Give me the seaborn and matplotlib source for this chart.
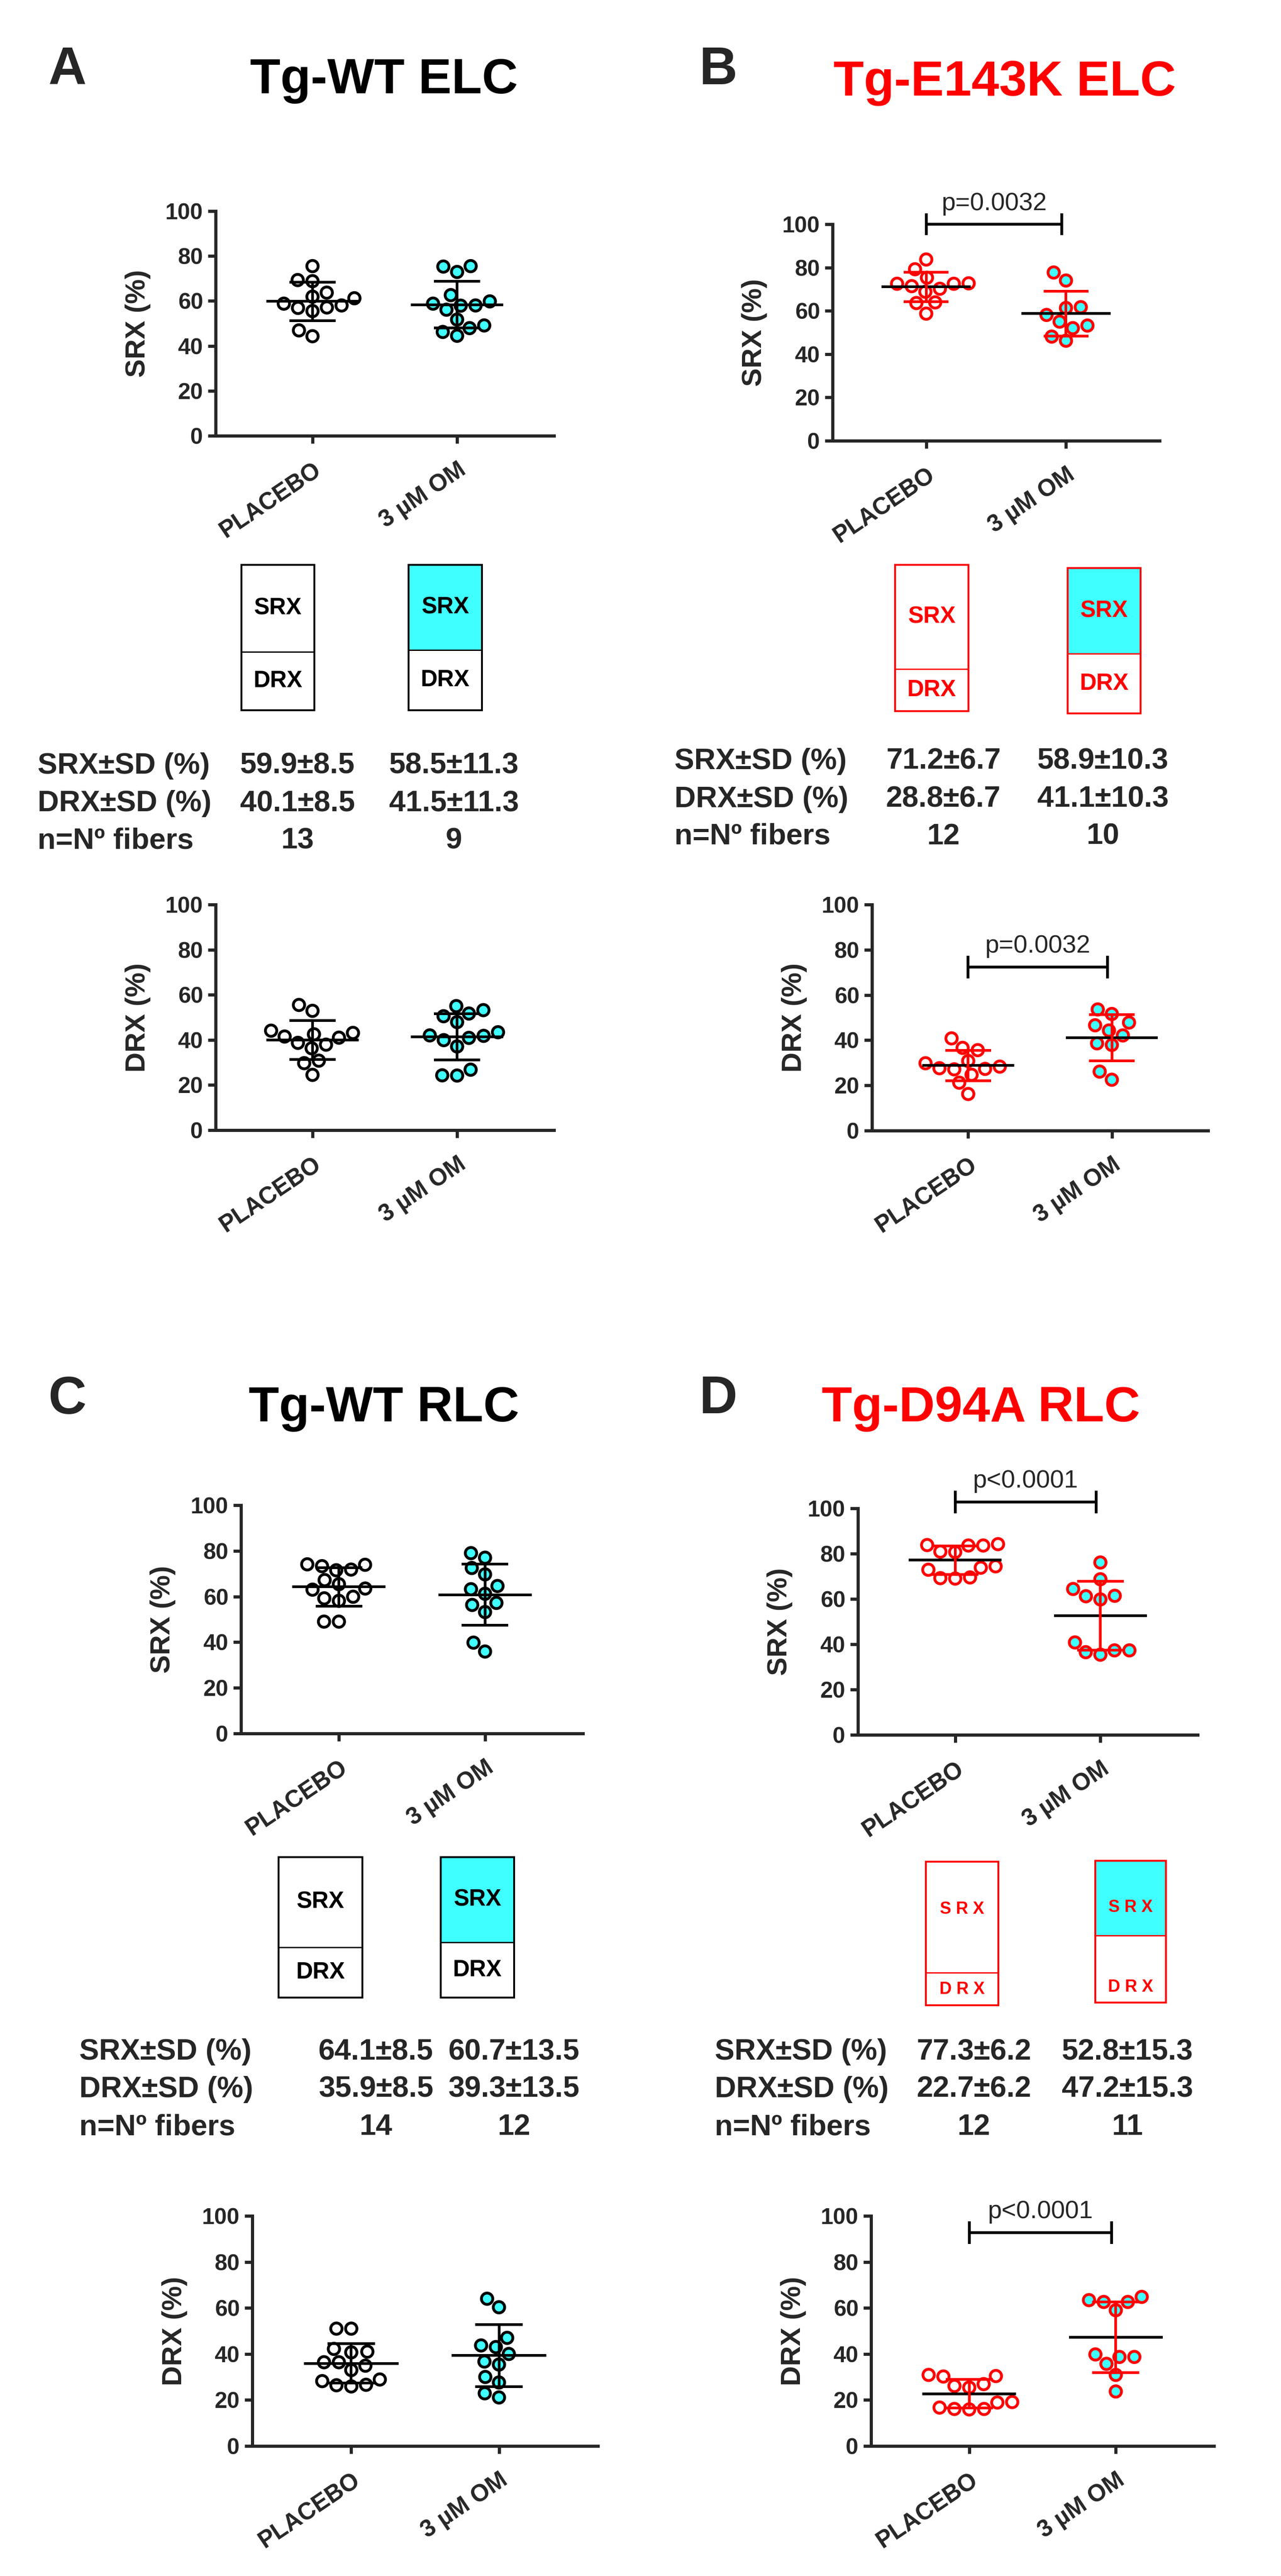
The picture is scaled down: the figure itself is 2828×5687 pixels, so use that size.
import numpy as np
import pandas as pd
import seaborn as sns
import matplotlib.pyplot as plt

W, H = 2828, 5687
CYAN = "#40FFFF"
RED = "#FF0000"

groups = ["PLACEBO", "3 \u00b5M OM"]

# individual fibers (%)
a_srx_pla = [75.5, 68.8, 69.3, 63.7, 61.9, 58.8, 56.9, 58.0, 55.5, 57.1, 61.2, 44.3, 46.9]
a_srx_om = [75.3, 72.9, 75.5, 62.6, 59.8, 57.9, 58.0, 58.8, 56.1, 51.7, 46.2, 47.9, 49.1, 44.5]
a_drx_pla = [55.5, 52.9, 42.5, 41.0, 43.1, 44.1, 41.5, 38.7, 37.9, 36.3, 30.8, 29.7, 24.5]
a_drx_om = [55.0, 53.2, 50.5, 51.7, 47.9, 43.4, 39.9, 42.0, 41.8, 40.9, 37.1, 24.2, 26.8, 24.3]
b_srx_pla = [83.7, 79.2, 75.3, 72.7, 71.4, 72.5, 72.5, 70.2, 68.8, 63.9, 63.6, 58.7]
b_srx_om = [77.7, 74.0, 61.3, 61.7, 58.1, 55.0, 53.2, 52.0, 46.2, 48.1]
b_drx_pla = [40.8, 36.6, 35.6, 30.8, 29.8, 27.1, 27.6, 28.3, 27.3, 24.7, 21.2, 16.2]
b_drx_om = [53.6, 51.6, 47.8, 46.6, 44.3, 42.1, 38.6, 37.9, 26.1, 22.5]
c_srx_pla = [73.9, 74.1, 71.5, 71.8, 73.3, 67.2, 63.5, 65.4, 63.0, 59.9, 58.1, 59.2, 49.0, 49.0]
c_srx_om = [79.0, 77.0, 72.5, 69.7, 63.2, 64.6, 61.2, 57.2, 56.3, 53.2, 39.8, 35.9]
c_drx_pla = [51.0, 51.0, 40.7, 41.0, 42.2, 34.9, 36.4, 36.4, 33.0, 28.9, 28.2, 26.6, 26.4, 25.9]
c_drx_om = [64.0, 60.3, 47.0, 43.7, 43.0, 40.0, 36.7, 35.4, 30.0, 27.6, 22.9, 21.1]
d_srx_pla = [83.8, 80.7, 80.9, 83.6, 84.2, 83.6, 74.4, 73.8, 72.9, 69.5, 69.2, 69.0]
d_srx_om = [76.1, 68.7, 64.4, 59.8, 61.4, 61.2, 40.8, 35.4, 37.3, 36.5, 37.3]
d_drx_pla = [30.4, 30.9, 30.2, 26.1, 26.9, 25.4, 19.1, 18.9, 16.1, 15.9, 16.1, 16.7]
d_drx_om = [64.8, 62.6, 62.6, 63.4, 59.0, 39.8, 38.7, 38.7, 35.7, 30.9, 23.7]

# summary tables
a_srx_mean, a_srx_sd, a_n = [59.9, 58.5], [8.5, 11.3], [13, 9]
a_drx_mean = [40.1, 41.5]
b_srx_mean, b_srx_sd, b_n = [71.2, 58.9], [6.7, 10.3], [12, 10]
b_drx_mean = [28.8, 41.1]
c_srx_mean, c_srx_sd, c_n = [64.1, 60.7], [8.5, 13.5], [14, 12]
c_drx_mean = [35.9, 39.3]
d_srx_mean, d_srx_sd, d_n = [77.3, 52.8], [6.2, 15.3], [12, 11]
d_drx_mean = [22.7, 47.2]

sns.set_style("ticks")
plt.rcParams["font.family"] = ["Liberation Sans", "DejaVu Sans"]
plt.rcParams["font.weight"] = "bold"
plt.rcParams["axes.labelweight"] = "bold"

fig = plt.figure(figsize=(W / 100, H / 100), dpi=100)


def px_axes(left, top, right, bottom):
    return fig.add_axes([left / W, 1 - bottom / H, (right - left) / W, (bottom - top) / H])


def scatter_panel(box, pla, om, edge, sd_color, ylabel, bracket=None):
    ax = px_axes(*box)
    df = pd.DataFrame({"group": [groups[0]] * len(pla) + [groups[1]] * len(om),
                       "value": pla + om})
    sns.swarmplot(data=df, x="group", y="value", hue="group", order=groups,
                  hue_order=groups, palette={groups[0]: "white", groups[1]: CYAN},
                  edgecolor=edge, linewidth=4.5, size=18, legend=False, ax=ax, zorder=2)
    for i, vals in enumerate([pla, om]):
        m = np.mean(vals)
        s = np.std(vals, ddof=1)
        ax.hlines(m, i - 0.32, i + 0.32, color="black", lw=4.3, zorder=3)
        ax.vlines(i, m - s, m + s, color=sd_color, lw=4.3, zorder=3)
        ax.hlines([m - s, m + s], i - 0.16, i + 0.16, color=sd_color, lw=4.3, zorder=3)
    ax.set_xlim(-0.67, 1.67)
    ax.set_ylim(0, 100)
    ax.set_yticks(range(0, 101, 20))
    ax.set_xlabel("")
    ax.set_ylabel(ylabel, fontsize=44, va="center")
    ax.yaxis.set_label_coords(-172 / (box[2] - box[0]), 0.5)
    sns.despine(ax=ax)
    for sp in ["left", "bottom"]:
        ax.spines[sp].set_linewidth(5)
    ax.tick_params(axis="y", width=5, length=12, labelsize=36, pad=8)
    ax.tick_params(axis="x", width=5, length=12, labelsize=38, pad=24)
    for t in ax.get_xticklabels():
        t.set_rotation(34)
        t.set_ha("right")
        t.set_va("top")
        t.set_rotation_mode("anchor")
    if bracket is not None:
        y, txt = bracket
        ax.hlines(y, 0.0, 0.97, color="black", lw=4.5, clip_on=False)
        ax.vlines([0.0, 0.97], y - 5, y + 5, color="black", lw=4.5, clip_on=False)
        ax.text(0.485, y + 4, txt, ha="center", va="bottom", fontsize=40,
                fontweight="normal", clip_on=False)
    return ax


def box_panel(box, srx, edge, fill, spaced=False):
    ax = px_axes(*box)
    drx = 100 - srx
    bars = ax.bar(0, drx, width=1, color="white", edgecolor=edge, lw=2)
    bars2 = ax.bar(0, srx, bottom=drx, width=1, color=fill, edgecolor=edge, lw=2)
    outline = ax.bar(0, 100, width=1, fill=False, edgecolor=edge, lw=3)
    for p in list(bars) + list(bars2) + list(outline):
        p.set_clip_on(False)
    ax.set_xlim(-0.5, 0.5)
    ax.set_ylim(0, 100)
    ax.axis("off")
    if spaced:
        ax.text(0, 67, "S R X", ha="center", va="center", fontsize=27, color=edge)
        ax.text(0, 11, "D R X", ha="center", va="center", fontsize=27, color=edge)
    else:
        ax.text(0, drx + srx / 2, "SRX", ha="center", va="center", fontsize=37, color=edge)
        ax.text(0, drx / 2, "DRX", ha="center", va="center", fontsize=37, color=edge)


def table(x_label, rows_y, cols_x, srx_m, srx_s, drx_m, n):
    rows = [("SRX\u00b1SD (%)", ["%.1f\u00b1%.1f" % (srx_m[i], srx_s[i]) for i in range(2)]),
            ("DRX\u00b1SD (%)", ["%.1f\u00b1%.1f" % (drx_m[i], srx_s[i]) for i in range(2)]),
            ("n=N\u00ba fibers", [str(v) for v in n])]
    for (lab, vals), y in zip(rows, rows_y):
        fig.text(x_label / W, 1 - y / H, lab, ha="left", va="center", fontsize=47)
        for v, x in zip(vals, cols_x):
            fig.text(x / W, 1 - y / H, v, ha="center", va="center", fontsize=47)


def heading(letter, lx, ly, title, tx, ty, color):
    fig.text(lx / W, 1 - ly / H, letter, ha="center", va="center", fontsize=84)
    fig.text(tx / W, 1 - ty / H, title, ha="center", va="center", fontsize=79, color=color)


# A
heading("A", 148, 155, "Tg-WT ELC", 848, 178, "black")
scatter_panel((476, 466, 1223, 962), a_srx_pla, a_srx_om, "black", "black", "SRX (%)")
box_panel((533, 1247, 694, 1568), a_srx_mean[0], "black", "white")
box_panel((902, 1247, 1064, 1568), a_srx_mean[1], "black", CYAN)
table(83, [1691, 1774, 1857], [657, 1002], a_srx_mean, a_srx_sd, a_drx_mean, a_n)
scatter_panel((476, 1997, 1223, 2495), a_drx_pla, a_drx_om, "black", "black", "DRX (%)")

# B
heading("B", 1585, 155, "Tg-E143K ELC", 2218, 183, RED)
scatter_panel((1838, 495, 2560, 973), b_srx_pla, b_srx_om, RED, RED, "SRX (%)",
              bracket=(100, "p=0.0032"))
box_panel((1976, 1247, 2138, 1570), b_srx_mean[0], RED, "white")
box_panel((2357, 1254, 2518, 1575), b_srx_mean[1], RED, CYAN)
table(1489, [1681, 1765, 1847], [2083, 2435], b_srx_mean, b_srx_sd, b_drx_mean, b_n)
scatter_panel((1925, 1997, 2667, 2496), b_drx_pla, b_drx_om, RED, RED, "DRX (%)",
              bracket=(72.3, "p=0.0032"))

# C
heading("C", 148, 3090, "Tg-WT RLC", 848, 3110, "black")
scatter_panel((532, 3323, 1287, 3827), c_srx_pla, c_srx_om, "black", "black", "SRX (%)")
box_panel((615, 4100, 800, 4410), c_srx_mean[0], "black", "white")
box_panel((973, 4100, 1135, 4410), c_srx_mean[1], "black", CYAN)
table(175, [4530, 4613, 4696], [830, 1135], c_srx_mean, c_srx_sd, c_drx_mean, c_n)
scatter_panel((557, 4892, 1320, 5400), c_drx_pla, c_drx_om, "black", "black", "DRX (%)")

# D
heading("D", 1585, 3090, "Tg-D94A RLC", 2165, 3110, RED)
scatter_panel((1894, 3330, 2644, 3830), d_srx_pla, d_srx_om, RED, RED, "SRX (%)",
              bracket=(102.8, "p<0.0001"))
box_panel((2044, 4110, 2204, 4427), d_srx_mean[0], RED, "white", spaced=True)
box_panel((2418, 4108, 2574, 4421), d_srx_mean[1], RED, CYAN, spaced=True)
table(1578, [4530, 4613, 4696], [2150, 2489], d_srx_mean, d_srx_sd, d_drx_mean, d_n)
scatter_panel((1923, 4892, 2680, 5400), d_drx_pla, d_drx_om, RED, RED, "DRX (%)",
              bracket=(92.7, "p<0.0001"))

fig.savefig("out.png", dpi=100, facecolor="white")
